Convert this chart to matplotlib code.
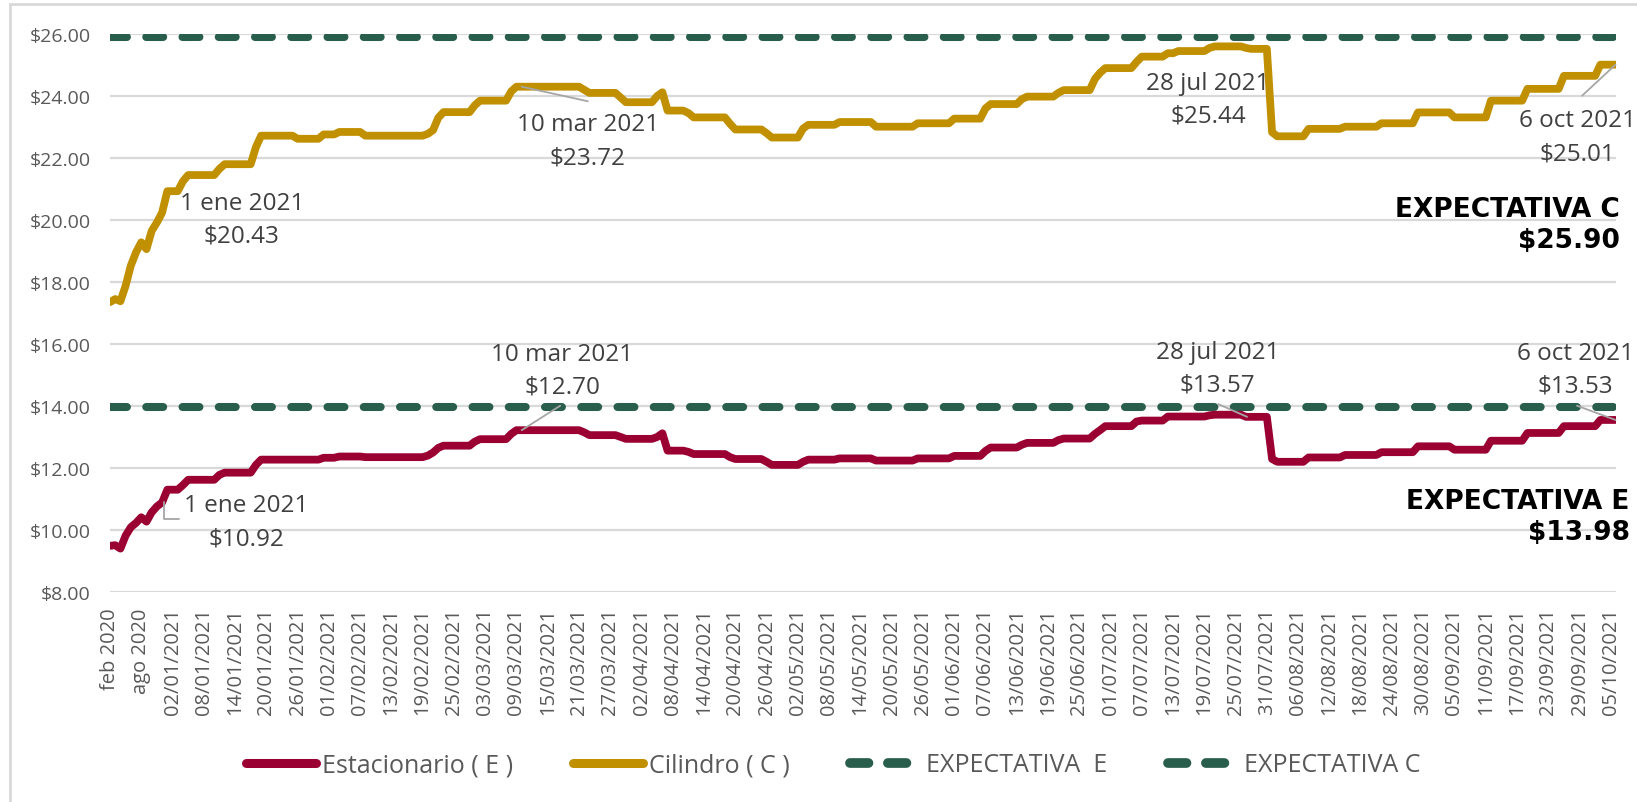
import numpy as np
import matplotlib
matplotlib.use("Agg")
from matplotlib import pyplot as plt
from matplotlib.lines import Line2D
from matplotlib.patches import Rectangle

plt.rcParams['font.family'] = ['Open Sans', 'DejaVu Sans']

# precio del gas LP (pesos por kg / litro) - niveles y dias que dura cada nivel
cil_valores = [17.35, 17.45, 17.38, 17.88, 18.53, 18.96, 19.28, 19.06, 19.65, 19.92, 20.24,
               20.93, 21.25, 21.45, 21.65, 21.80, 22.35, 22.72, 22.62, 22.76, 22.84, 22.72,
               22.78, 22.90, 23.30, 23.48, 23.70, 23.85, 24.15, 24.30, 24.20, 24.10, 23.95,
               23.80, 24.00, 24.12, 23.53, 23.45, 23.31, 23.10, 22.92, 22.80, 22.66, 22.95,
               23.07, 23.16, 23.01, 23.12, 23.27, 23.60, 23.74, 23.90, 23.98, 24.10, 24.19,
               24.55, 24.75, 24.90, 25.10, 25.27, 25.38, 25.45, 25.55, 25.60, 25.55, 25.52,
               22.83, 22.70, 22.94, 23.01, 23.12, 23.47, 23.31, 23.85, 24.23, 24.65, 25.01]
cil_dias = [1, 1, 1, 1, 1, 1, 1, 1, 1, 1, 1,
            3, 1, 6, 1, 6, 1, 7, 5, 3, 5, 12,
            1, 1, 1, 6, 1, 6, 1, 13, 1, 6, 1,
            6, 1, 1, 4, 1, 7, 1, 6, 1, 6, 1,
            6, 7, 8, 7, 6, 1, 6, 1, 6, 1, 6,
            1, 1, 6, 1, 5, 2, 6, 1, 6, 1, 4,
            1, 6, 7, 7, 7, 7, 7, 7, 7, 7, 4]

est_valores = [9.49, 9.51, 9.40, 9.82, 10.09, 10.23, 10.41, 10.27, 10.57, 10.76, 10.89,
               11.30, 11.45, 11.62, 11.78, 11.85, 12.10, 12.27, 12.33, 12.37, 12.35,
               12.40, 12.50, 12.65, 12.72, 12.85, 12.93, 13.10, 13.22, 13.15, 13.06, 13.00,
               12.94, 13.00, 13.12, 12.56, 12.52, 12.45, 12.35, 12.29, 12.20, 12.10, 12.20,
               12.27, 12.31, 12.24, 12.31, 12.39, 12.55, 12.66, 12.75, 12.81, 12.90, 12.95,
               13.10, 13.22, 13.35, 13.50, 13.53, 13.66, 13.70, 13.72, 13.65,
               12.29, 12.20, 12.34, 12.42, 12.51, 12.70, 12.59, 12.88, 13.13, 13.35, 13.55]
est_dias = [1, 1, 1, 1, 1, 1, 1, 1, 1, 1, 1,
            3, 1, 6, 1, 6, 1, 12, 3, 5, 12,
            1, 1, 1, 6, 1, 6, 1, 13, 1, 6, 1,
            6, 1, 1, 4, 1, 7, 1, 6, 1, 6, 1,
            6, 7, 8, 7, 6, 1, 6, 1, 6, 1, 6,
            1, 1, 6, 1, 5, 8, 1, 6, 5,
            1, 6, 7, 7, 7, 7, 7, 7, 7, 7, 4]

expectativa_e = 13.98
expectativa_c = 25.90

etiquetas_x = ["feb 2020", "ago 2020", "02/01/2021", "08/01/2021", "14/01/2021", "20/01/2021",
               "26/01/2021", "01/02/2021", "07/02/2021", "13/02/2021", "19/02/2021", "25/02/2021",
               "03/03/2021", "09/03/2021", "15/03/2021", "21/03/2021", "27/03/2021", "02/04/2021",
               "08/04/2021", "14/04/2021", "20/04/2021", "26/04/2021", "02/05/2021", "08/05/2021",
               "14/05/2021", "20/05/2021", "26/05/2021", "01/06/2021", "07/06/2021", "13/06/2021",
               "19/06/2021", "25/06/2021", "01/07/2021", "07/07/2021", "13/07/2021", "19/07/2021",
               "25/07/2021", "31/07/2021", "06/08/2021", "12/08/2021", "18/08/2021", "24/08/2021",
               "30/08/2021", "05/09/2021", "11/09/2021", "17/09/2021", "23/09/2021", "29/09/2021",
               "05/10/2021"]

cilindro = np.repeat(cil_valores, cil_dias)
estacionario = np.repeat(est_valores, est_dias)
x = np.arange(len(cilindro))

ROJO = "#9b0033"
ORO = "#c09000"
VERDE = "#2a5e4c"
GRIS = "#595959"
TEXTO = "#404040"
LIDER = "#a6a6a6"

fig = plt.figure(figsize=(16.37, 8.03), dpi=100)
fig.patches.append(Rectangle((10 / 1637, -0.1), 1.2, (803 - 5) / 803 + 0.1,
                             transform=fig.transFigure, fill=False,
                             edgecolor="#d9d9d9", lw=2))

ax = fig.add_axes([110 / 1637, 1 - 593 / 803, (1616 - 110) / 1637, (593 - 35) / 803])
ax.set_xlim(0, len(x) - 1)
ax.set_ylim(8, 26)

ax.plot(x, np.full(len(x), expectativa_c), color=VERDE, lw=5.8, dashes=(2.1, 2.4),
        dash_capstyle="round", zorder=3)
ax.plot(x, np.full(len(x), expectativa_e), color=VERDE, lw=5.8, dashes=(2.1, 2.4),
        dash_capstyle="round", zorder=3)
ax.plot(x, cilindro, color=ORO, lw=5.6, solid_joinstyle="round", solid_capstyle="round", zorder=4)
ax.plot(x, estacionario, color=ROJO, lw=5.6, solid_joinstyle="round", solid_capstyle="round", zorder=4)

ax.set_yticks(np.arange(8, 27, 2))
ax.set_yticklabels(["${:.2f}".format(v) for v in np.arange(8, 27, 2)])
ax.set_xticks(np.arange(0, len(x), 6))
ax.set_xticklabels(etiquetas_x, rotation=90)
ax.tick_params(axis="y", length=0, pad=14, labelsize=14, labelcolor=GRIS)
ax.tick_params(axis="x", length=0, pad=11, labelsize=14.5, labelcolor=GRIS)
ax.yaxis.grid(True, color="#d9d9d9", lw=1.6)
ax.set_axisbelow(True)
for s in ax.spines.values():
    s.set_visible(False)

# etiquetas de datos
i_ene, i_mar, i_jul, i_oct = 11, 79, 219, 289
etq = dict(fontsize=17.5, color=TEXTO, ha="center", va="center", linespacing=1.5, zorder=6)
ax.text(25.3, 20.03, "1 ene 2021\n$20.43", **etq)
ax.text(26.1, 10.27, "1 ene 2021\n$10.92", **etq)
ax.text(91.7, 22.55, "10 mar 2021\n$23.72", **etq)
ax.text(86.8, 15.15, "10 mar 2021\n$12.70", **etq)
ax.text(210.7, 23.90, "28 jul 2021\n$25.44", **etq)
ax.text(212.5, 15.21, "28 jul 2021\n$13.57", **etq)
ax.text(281.6, 22.68, "6 oct 2021\n$25.01", clip_on=False, **etq)
ax.text(281.2, 15.19, "6 oct 2021\n$13.53", clip_on=False, **etq)

lider = dict(arrowstyle="-", color=LIDER, lw=1.3, shrinkA=0, shrinkB=0)
ax.annotate("", xy=(i_ene - 0.6, estacionario[i_ene - 1]), xytext=(13.2, 10.35),
            arrowprops=dict(connectionstyle="angle,angleA=0,angleB=90,rad=0", **lider), zorder=5)
ax.annotate("", xy=(i_mar, cilindro[i_mar]), xytext=(91.7, 23.83), arrowprops=lider, zorder=5)
ax.annotate("", xy=(i_mar, estacionario[i_mar]), xytext=(86.4, 14.01), arrowprops=lider, zorder=5)
ax.annotate("", xy=(i_jul - 0.8, estacionario[i_jul]), xytext=(212.7, 14.06), arrowprops=lider, zorder=5)
ax.annotate("", xy=(i_oct - 0.1, cilindro[i_oct]), xytext=(282.5, 24.01), arrowprops=lider, zorder=5)
ax.annotate("", xy=(i_oct - 0.1, estacionario[i_oct]), xytext=(281.5, 14.01), arrowprops=lider, zorder=5)

negrita = dict(fontsize=19, fontweight="bold", family="DejaVu Sans", color="black",
               ha="right", va="center", linespacing=1.25, clip_on=False, zorder=6)
ax.text(289.8, 19.84, "EXPECTATIVA C\n${:.2f}".format(expectativa_c), **negrita)
ax.text(291.6, 10.42, "EXPECTATIVA E\n${:.2f}".format(expectativa_e), **negrita)

handles = [Line2D([], [], color=ROJO, lw=6.5, solid_capstyle="round"),
           Line2D([], [], color=ORO, lw=6.5, solid_capstyle="round"),
           Line2D([], [], color=VERDE, lw=7, dashes=(1.9, 2.0), dash_capstyle="round"),
           Line2D([], [], color=VERDE, lw=7, dashes=(1.9, 2.0), dash_capstyle="round")]
leg = fig.legend(handles, ["Estacionario ( E )", "Cilindro ( C )", "EXPECTATIVA  E", "EXPECTATIVA C"],
                 loc="center", bbox_to_anchor=(833 / 1637, 1 - 766 / 803), ncol=4, frameon=False,
                 fontsize=18, handlelength=2.8, handletextpad=0.25, columnspacing=2.4)
for t in leg.get_texts():
    t.set_color(GRIS)

fig.savefig("out.png", dpi=100)
